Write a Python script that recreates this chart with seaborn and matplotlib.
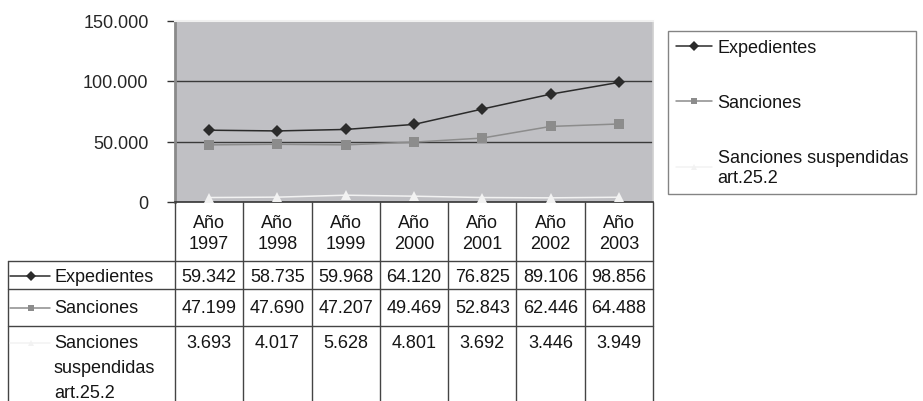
import pandas as pd
import seaborn as sns
import matplotlib
matplotlib.use('Agg')
from matplotlib import pyplot as plt
from matplotlib.lines import Line2D
from matplotlib import transforms

anios = ['1997', '1998', '1999', '2000', '2001', '2002', '2003']
expedientes = [59342, 58735, 59968, 64120, 76825, 89106, 98856]
sanciones = [47199, 47690, 47207, 49469, 52843, 62446, 64488]
suspendidas = [3693, 4017, 5628, 4801, 3692, 3446, 3949]
series = ['Expedientes', 'Sanciones', 'Sanciones suspendidas\nart.25.2']
yticks = [0, 50000, 100000, 150000]


def miles(v):
    return f'{v:,}'.replace(',', '.')


sns.set_theme(style='white')
plt.rcParams['font.family'] = ['Liberation Sans', 'DejaVu Sans']
plt.rcParams['text.color'] = '#151515'
FS = 13

W, H = 923, 402
fig = plt.figure(figsize=(W / 100, H / 100), dpi=100)
ax = fig.add_axes([175 / W, 1 - 203 / H, (653 - 175) / W, (203 - 21.5) / H])
ax.set_facecolor('#c0c0c4')

rows = []
for nombre, vals in zip(series, [expedientes, sanciones, suspendidas]):
    for i, v in enumerate(vals):
        rows.append({'pos': i, 'valor': v, 'serie': nombre})
df = pd.DataFrame(rows)

colores = {series[0]: '#2b2b2b', series[1]: '#8c8c8c', series[2]: '#f2f2f2'}
marcas = {series[0]: 'D', series[1]: 's', series[2]: '^'}

ax.axhline(50000, color='#3a3a3a', lw=1, zorder=1)
ax.axhline(100000, color='#3a3a3a', lw=1, zorder=1)
sns.lineplot(data=df, x='pos', y='valor', hue='serie', style='serie',
             palette=colores, markers=marcas, dashes=False, markersize=6.5,
             linewidth=1.1, markeredgewidth=0, ax=ax, legend=False, zorder=3)

ax.set_xlim(-0.5, 6.5)
ax.set_ylim(0, 150000)
ax.set_yticks(yticks)
ax.set_yticklabels([miles(v) for v in yticks], fontsize=FS)
ax.set_xticks([])
ax.set_xlabel('')
ax.set_ylabel('')
ax.tick_params(axis='y', left=True, length=6, width=1, color='#333333', pad=13)
ax.spines['left'].set_color('#8a8a8a')
ax.spines['left'].set_linewidth(2)
ax.spines['top'].set_color('#f0f0f0')
ax.spines['top'].set_linewidth(1.5)
ax.spines['right'].set_color('#d0d0d0')
ax.spines['bottom'].set_color('#333333')
ax.spines['bottom'].set_linewidth(1.2)

# tabla de datos bajo el grafico
tr = transforms.blended_transform_factory(ax.transData, fig.transFigure)


def fy(y):
    return 1 - y / H


def fx(x):
    return x / W


lc = '#444444'
for k in range(len(anios) + 1):
    fig.add_artist(Line2D([k - 0.5, k - 0.5], [fy(203), fy(402)], transform=tr, color=lc, lw=1))
fig.add_artist(Line2D([fx(8), fx(8)], [fy(262), fy(402)], transform=fig.transFigure, color=lc, lw=1))
for y in [262, 290, 327]:
    fig.add_artist(Line2D([fx(8), fx(653)], [fy(y), fy(y)], transform=fig.transFigure, color=lc, lw=1))

for i, a in enumerate(anios):
    fig.text(i, fy(234), f'Año\n{a}', transform=tr, fontsize=FS, ha='center', va='center',
             linespacing=1.3)

fila_y = [277, 309, 344]
for s, vals, y in zip(series, [expedientes, sanciones, suspendidas], fila_y):
    fig.add_artist(Line2D([fx(10), fx(50)], [fy(y), fy(y)], transform=fig.transFigure,
                          color=colores[s], lw=1.1))
    fig.add_artist(Line2D([fx(31)], [fy(y)], transform=fig.transFigure, marker=marcas[s],
                          color=colores[s], markersize=5, markeredgewidth=0, lw=0))
    if s == series[2]:
        fig.text(fx(54), fy(y - 9), 'Sanciones\nsuspendidas\nart.25.2', fontsize=FS,
                 ha='left', va='top', linespacing=1.62)
    else:
        fig.text(fx(54), fy(y), s, fontsize=FS, ha='left', va='center')
    for i, v in enumerate(vals):
        fig.text(i, fy(y), miles(v), transform=tr, fontsize=FS, ha='center', va='center')

handles = [Line2D([], [], color=colores[s], marker=marcas[s], markersize=5,
                  markeredgewidth=0, lw=1.1) for s in series]
leg = fig.legend(handles, series, loc='upper left', bbox_to_anchor=(fx(668), fy(32)),
                 frameon=True, fancybox=False, edgecolor='#666666', fontsize=FS,
                 labelspacing=2.1, handlelength=2.0, handletextpad=0.3,
                 borderpad=0.45, borderaxespad=0)
leg.get_frame().set_linewidth(1)

fig.savefig('out.png', dpi=100)
